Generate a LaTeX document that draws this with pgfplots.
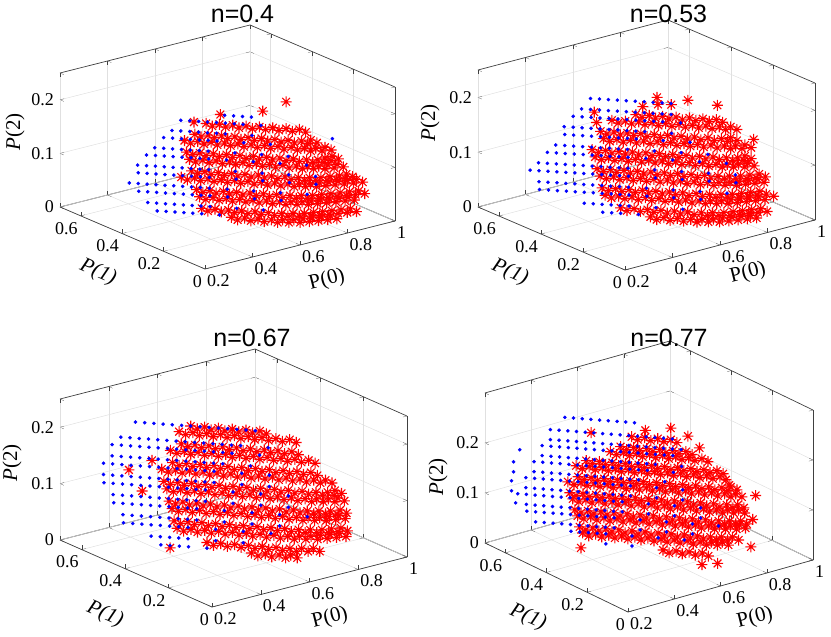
\documentclass[border=0pt]{standalone}
\usepackage{fontspec}
\setmainfont{Liberation Serif}
\newfontfamily\titlefont{Liberation Sans}
\usepackage{pgfplots}
\pgfplotsset{compat=1.18}
\pgfdeclareplotmark{mstar}{%
  \pgfpathmoveto{\pgfqpoint{-\pgfplotmarksize}{0pt}}\pgfpathlineto{\pgfqpoint{\pgfplotmarksize}{0pt}}%
  \pgfpathmoveto{\pgfqpoint{0pt}{-\pgfplotmarksize}}\pgfpathlineto{\pgfqpoint{0pt}{\pgfplotmarksize}}%
  \pgfpathmoveto{\pgfqpoint{-0.707\pgfplotmarksize}{-0.707\pgfplotmarksize}}\pgfpathlineto{\pgfqpoint{0.707\pgfplotmarksize}{0.707\pgfplotmarksize}}%
  \pgfpathmoveto{\pgfqpoint{-0.707\pgfplotmarksize}{0.707\pgfplotmarksize}}\pgfpathlineto{\pgfqpoint{0.707\pgfplotmarksize}{-0.707\pgfplotmarksize}}%
  \pgfusepathqstroke}
\pgfplotsset{
 myaxis/.style={
  xmin=0.2,xmax=1,ymin=0,ymax=0.7,zmin=0,
  xtick={0.2,0.4,0.6,0.8,1}, ytick={0,0.2,0.4,0.6}, ztick={0,0.1,0.2},
  grid=major, major grid style={draw=black!12, line width=0.5pt},
  axis line style={draw=black!75, line width=0.7pt},
  tick style={draw=black!75},
  tick label style={font=\fontsize{18}{18}\selectfont},
  xticklabel style={anchor=north west, inner sep=0pt, xshift=2pt, yshift=-5pt},
  yticklabel style={anchor=north east, inner sep=0pt, xshift=-3pt, yshift=-6pt},
  zticklabel style={anchor=east, inner sep=0pt, xshift=-6pt},
  /pgf/number format/assume math mode=true,
  anchor=origin, clip=false,
 },
 bl/.style={only marks, mark=*, mark size=1.6pt, mark options={draw=blue,fill=blue}},
 rd/.style={only marks, mark=mstar, mark size=5.5pt, mark options={draw=red, line width=1.1pt}},
}
\newcommand{\lab}[1]{\fontsize{21}{21}\selectfont #1}
\begin{document}
\begin{tikzpicture}[x=1pt,y=1pt]
\useasboundingbox (0,0) rectangle (831,-637);
% ---------------- A : n=0.4
\begin{axis}[myaxis, zmax=0.25, x={(237.5pt,60pt)}, y={(-207.1pt,88.6pt)}, z={(0pt,536pt)}, at={(205pt,-269pt)}]
\addplot3[rd] coordinates {
(0.59,0.29,0) (0.62,0.26,0) (0.65,0.23,0) (0.68,0.20,0) (0.71,0.18,0) (0.74,0.16,0) (0.77,0.15,0) (0.80,0.14,0) (0.83,0.13,0) (0.86,0.12,0)
(0.50,0.33,0.02) (0.53,0.30,0.02) (0.56,0.27,0.02) (0.59,0.24,0.02) (0.62,0.21,0.02) (0.65,0.18,0.02) (0.68,0.15,0.02) (0.71,0.13,0.02) (0.74,0.11,0.02) (0.77,0.10,0.02) (0.80,0.09,0.02) (0.83,0.08,0.02) (0.86,0.07,0.02) (0.89,0.06,0.02)
(0.50,0.34,0.04) (0.53,0.31,0.04) (0.56,0.28,0.04) (0.59,0.25,0.04) (0.62,0.22,0.04) (0.65,0.19,0.04) (0.68,0.16,0.04) (0.71,0.14,0.04) (0.74,0.12,0.04) (0.77,0.11,0.04) (0.80,0.10,0.04) (0.83,0.09,0.04) (0.86,0.08,0.04) (0.89,0.07,0.04)
(0.47,0.32,0.06) (0.50,0.29,0.06) (0.53,0.26,0.06) (0.56,0.23,0.06) (0.59,0.20,0.06) (0.62,0.17,0.06) (0.65,0.14,0.06) (0.68,0.11,0.06) (0.71,0.09,0.06) (0.74,0.07,0.06) (0.77,0.06,0.06) (0.80,0.05,0.06) (0.83,0.04,0.06) (0.86,0.03,0.06) (0.89,0.02,0.06)
(0.44,0.36,0.08) (0.47,0.33,0.08) (0.50,0.30,0.08) (0.53,0.27,0.08) (0.56,0.24,0.08) (0.59,0.21,0.08) (0.62,0.18,0.08) (0.65,0.15,0.08) (0.68,0.12,0.08) (0.71,0.10,0.08) (0.74,0.08,0.08) (0.77,0.07,0.08) (0.80,0.06,0.08) (0.83,0.05,0.08) (0.86,0.04,0.08) (0.89,0.03,0.08)
(0.44,0.31,0.10) (0.47,0.28,0.10) (0.50,0.25,0.10) (0.53,0.22,0.10) (0.56,0.19,0.10) (0.59,0.16,0.10) (0.62,0.13,0.10) (0.65,0.10,0.10) (0.68,0.07,0.10) (0.71,0.05,0.10) (0.74,0.03,0.10) (0.77,0.02,0.10) (0.80,0.01,0.10) (0.83,0.01,0.10)
(0.44,0.32,0.12) (0.47,0.29,0.12) (0.50,0.26,0.12) (0.53,0.23,0.12) (0.56,0.20,0.12) (0.59,0.17,0.12) (0.62,0.14,0.12) (0.65,0.11,0.12) (0.68,0.08,0.12) (0.71,0.06,0.12) (0.74,0.04,0.12) (0.77,0.03,0.12) (0.80,0.02,0.12)
(0.41,0.30,0.14) (0.44,0.27,0.14) (0.47,0.24,0.14) (0.50,0.21,0.14) (0.53,0.18,0.14) (0.56,0.15,0.14) (0.59,0.12,0.14) (0.62,0.09,0.14) (0.65,0.06,0.14) (0.68,0.03,0.14) (0.71,0.01,0.14) (0.74,0.01,0.14) (0.77,0.01,0.14)
(0.41,0.31,0.16) (0.44,0.28,0.16) (0.47,0.25,0.16) (0.50,0.22,0.16) (0.53,0.19,0.16) (0.56,0.16,0.16) (0.59,0.13,0.16) (0.62,0.10,0.16) (0.65,0.07,0.16) (0.68,0.04,0.16) (0.71,0.02,0.16) (0.74,0.01,0.16)
(0.41,0.26,0.18) (0.44,0.23,0.18) (0.47,0.20,0.18) (0.50,0.17,0.18) (0.53,0.14,0.18) (0.56,0.11,0.18) (0.59,0.08,0.18) (0.62,0.05,0.18) (0.65,0.02,0.18) (0.68,0.01,0.18)
(0.44,0.24,0.20) (0.47,0.21,0.20) (0.50,0.18,0.20) (0.53,0.15,0.20) (0.56,0.12,0.20) (0.59,0.09,0.20) (0.62,0.06,0.20) (0.65,0.03,0.20)
(0.50,0.27,0.21) (0.60,0.18,0.22) (0.62,0.09,0.25) (0.45,0.34,0.19)
};
\addplot3[rd] coordinates {
(0.59,0.32,0) (0.62,0.29,0) (0.65,0.26,0) (0.68,0.23,0) (0.71,0.21,0) (0.74,0.19,0) (0.77,0.18,0) (0.80,0.17,0) (0.83,0.16,0) (0.86,0.15,0)
(0.50,0.36,0.02) (0.53,0.33,0.02) (0.56,0.30,0.02) (0.59,0.27,0.02) (0.62,0.24,0.02) (0.65,0.21,0.02) (0.68,0.18,0.02) (0.71,0.16,0.02) (0.74,0.14,0.02) (0.77,0.13,0.02) (0.80,0.12,0.02) (0.83,0.11,0.02) (0.86,0.10,0.02) (0.89,0.09,0.02)
(0.50,0.37,0.04) (0.53,0.34,0.04) (0.56,0.31,0.04) (0.59,0.28,0.04) (0.62,0.25,0.04) (0.65,0.22,0.04) (0.68,0.19,0.04) (0.71,0.17,0.04) (0.74,0.15,0.04) (0.77,0.14,0.04) (0.80,0.13,0.04) (0.83,0.12,0.04) (0.86,0.11,0.04) (0.89,0.10,0.04)
(0.47,0.35,0.06) (0.50,0.32,0.06) (0.53,0.29,0.06) (0.56,0.26,0.06) (0.59,0.23,0.06) (0.62,0.20,0.06) (0.65,0.17,0.06) (0.68,0.14,0.06) (0.71,0.12,0.06) (0.74,0.10,0.06) (0.77,0.09,0.06) (0.80,0.08,0.06) (0.83,0.07,0.06) (0.86,0.06,0.06) (0.89,0.05,0.06)
(0.44,0.39,0.08) (0.47,0.36,0.08) (0.50,0.33,0.08) (0.53,0.30,0.08) (0.56,0.27,0.08) (0.59,0.24,0.08) (0.62,0.21,0.08) (0.65,0.18,0.08) (0.68,0.15,0.08) (0.71,0.13,0.08) (0.74,0.11,0.08) (0.77,0.10,0.08) (0.80,0.09,0.08) (0.83,0.08,0.08) (0.86,0.07,0.08) (0.89,0.06,0.08)
(0.44,0.34,0.10) (0.47,0.31,0.10) (0.50,0.28,0.10) (0.53,0.25,0.10) (0.56,0.22,0.10) (0.59,0.19,0.10) (0.62,0.16,0.10) (0.65,0.13,0.10) (0.68,0.10,0.10) (0.71,0.08,0.10) (0.74,0.06,0.10) (0.77,0.05,0.10) (0.80,0.04,0.10) (0.83,0.04,0.10)
(0.44,0.35,0.12) (0.47,0.32,0.12) (0.50,0.29,0.12) (0.53,0.26,0.12) (0.56,0.23,0.12) (0.59,0.20,0.12) (0.62,0.17,0.12) (0.65,0.14,0.12) (0.68,0.11,0.12) (0.71,0.09,0.12) (0.74,0.07,0.12) (0.77,0.06,0.12) (0.80,0.05,0.12)
(0.41,0.33,0.14) (0.44,0.30,0.14) (0.47,0.27,0.14) (0.50,0.24,0.14) (0.53,0.21,0.14) (0.56,0.18,0.14) (0.59,0.15,0.14) (0.62,0.12,0.14) (0.65,0.09,0.14) (0.68,0.06,0.14) (0.71,0.04,0.14) (0.74,0.04,0.14) (0.77,0.04,0.14)
(0.41,0.34,0.16) (0.44,0.31,0.16) (0.47,0.28,0.16) (0.50,0.25,0.16) (0.53,0.22,0.16) (0.56,0.19,0.16) (0.59,0.16,0.16) (0.62,0.13,0.16) (0.65,0.10,0.16) (0.68,0.07,0.16) (0.71,0.05,0.16) (0.74,0.04,0.16)
(0.41,0.29,0.18) (0.44,0.26,0.18) (0.47,0.23,0.18) (0.50,0.20,0.18) (0.53,0.17,0.18) (0.56,0.14,0.18) (0.59,0.11,0.18) (0.62,0.08,0.18) (0.65,0.05,0.18) (0.68,0.04,0.18)
(0.44,0.27,0.20) (0.47,0.24,0.20) (0.50,0.21,0.20) (0.53,0.18,0.20) (0.56,0.15,0.20) (0.59,0.12,0.20) (0.62,0.09,0.20) (0.65,0.06,0.20)
};
\addplot3[bl] coordinates {
(0.40,0.46,0.01) (0.42,0.44,0.01) (0.44,0.42,0.01) (0.46,0.40,0.01) (0.48,0.38,0.01) (0.50,0.36,0.01) (0.54,0.32,0.01)
(0.36,0.46,0.03) (0.38,0.44,0.03) (0.40,0.42,0.03) (0.42,0.40,0.03) (0.44,0.38,0.03) (0.46,0.36,0.03) (0.48,0.34,0.03) (0.50,0.32,0.03) (0.56,0.26,0.03) (0.62,0.20,0.03)
(0.34,0.48,0.05) (0.36,0.46,0.05) (0.38,0.44,0.05) (0.40,0.42,0.05) (0.42,0.40,0.05) (0.44,0.38,0.05) (0.46,0.36,0.05) (0.48,0.34,0.05) (0.50,0.32,0.05) (0.54,0.28,0.05) (0.60,0.22,0.05) (0.66,0.16,0.05)
(0.30,0.48,0.07) (0.32,0.46,0.07) (0.34,0.44,0.07) (0.36,0.42,0.07) (0.38,0.40,0.07) (0.40,0.38,0.07) (0.42,0.36,0.07) (0.44,0.34,0.07) (0.46,0.32,0.07) (0.48,0.30,0.07) (0.52,0.26,0.07) (0.58,0.20,0.07) (0.64,0.14,0.07) (0.70,0.08,0.07)
(0.32,0.46,0.09) (0.34,0.44,0.09) (0.36,0.42,0.09) (0.38,0.40,0.09) (0.40,0.38,0.09) (0.42,0.36,0.09) (0.44,0.34,0.09) (0.46,0.32,0.09) (0.48,0.30,0.09) (0.54,0.24,0.09) (0.60,0.18,0.09) (0.66,0.12,0.09) (0.72,0.06,0.09)
(0.30,0.44,0.11) (0.32,0.42,0.11) (0.34,0.40,0.11) (0.36,0.38,0.11) (0.38,0.36,0.11) (0.40,0.34,0.11) (0.42,0.32,0.11) (0.44,0.30,0.11) (0.46,0.28,0.11) (0.52,0.22,0.11) (0.58,0.16,0.11) (0.64,0.10,0.11) (0.70,0.04,0.11)
(0.32,0.42,0.13) (0.34,0.40,0.13) (0.36,0.38,0.13) (0.38,0.36,0.13) (0.40,0.34,0.13) (0.42,0.32,0.13) (0.44,0.30,0.13) (0.46,0.28,0.13) (0.50,0.24,0.13) (0.56,0.18,0.13) (0.62,0.12,0.13) (0.68,0.06,0.13)
(0.32,0.38,0.15) (0.34,0.36,0.15) (0.36,0.34,0.15) (0.38,0.32,0.15) (0.40,0.30,0.15) (0.42,0.28,0.15) (0.44,0.26,0.15) (0.50,0.20,0.15) (0.56,0.14,0.15) (0.62,0.08,0.15)
(0.34,0.36,0.17) (0.36,0.34,0.17) (0.38,0.32,0.17) (0.40,0.30,0.17) (0.42,0.28,0.17) (0.44,0.26,0.17) (0.46,0.24,0.17) (0.52,0.18,0.17) (0.58,0.12,0.17)
(0.34,0.32,0.19) (0.36,0.30,0.19) (0.38,0.28,0.19) (0.40,0.26,0.19) (0.42,0.24,0.19) (0.44,0.22,0.19) (0.46,0.20,0.19) (0.52,0.14,0.19)
(0.36,0.30,0.21) (0.38,0.28,0.21) (0.40,0.26,0.21) (0.42,0.24,0.21) (0.44,0.22,0.21) (0.46,0.20,0.21) (0.48,0.18,0.21) (0.50,0.16,0.21) (0.54,0.12,0.21)
(0.44,0.18,0.23) (0.46,0.16,0.23) (0.48,0.14,0.23) (0.50,0.12,0.23) (0.78,0.05,0.17)
};
\end{axis}
% ---------------- B : n=0.53
\begin{axis}[myaxis, zmax=0.25, x={(237.5pt,62.5pt)}, y={(-210pt,90pt)}, z={(0pt,548pt)}, at={(625pt,-270pt)}]
\addplot3[rd] coordinates {
(0.59,0.29,0) (0.62,0.26,0) (0.65,0.23,0) (0.68,0.20,0) (0.71,0.18,0) (0.74,0.16,0) (0.77,0.15,0) (0.80,0.14,0) (0.83,0.13,0) (0.86,0.12,0)
(0.50,0.33,0.02) (0.53,0.30,0.02) (0.56,0.27,0.02) (0.59,0.24,0.02) (0.62,0.21,0.02) (0.65,0.18,0.02) (0.68,0.15,0.02) (0.71,0.13,0.02) (0.74,0.11,0.02) (0.77,0.10,0.02) (0.80,0.09,0.02) (0.83,0.08,0.02) (0.86,0.07,0.02)
(0.47,0.37,0.04) (0.50,0.34,0.04) (0.53,0.31,0.04) (0.56,0.28,0.04) (0.59,0.25,0.04) (0.62,0.22,0.04) (0.65,0.19,0.04) (0.68,0.16,0.04) (0.71,0.14,0.04) (0.74,0.12,0.04) (0.77,0.11,0.04) (0.80,0.10,0.04) (0.83,0.09,0.04) (0.86,0.08,0.04)
(0.44,0.35,0.06) (0.47,0.32,0.06) (0.50,0.29,0.06) (0.53,0.26,0.06) (0.56,0.23,0.06) (0.59,0.20,0.06) (0.62,0.17,0.06) (0.65,0.14,0.06) (0.68,0.11,0.06) (0.71,0.09,0.06) (0.74,0.07,0.06) (0.77,0.06,0.06) (0.80,0.05,0.06) (0.83,0.04,0.06)
(0.44,0.36,0.08) (0.47,0.33,0.08) (0.50,0.30,0.08) (0.53,0.27,0.08) (0.56,0.24,0.08) (0.59,0.21,0.08) (0.62,0.18,0.08) (0.65,0.15,0.08) (0.68,0.12,0.08) (0.71,0.10,0.08) (0.74,0.08,0.08) (0.77,0.07,0.08) (0.80,0.06,0.08) (0.83,0.05,0.08)
(0.41,0.34,0.10) (0.44,0.31,0.10) (0.47,0.28,0.10) (0.50,0.25,0.10) (0.53,0.22,0.10) (0.56,0.19,0.10) (0.59,0.16,0.10) (0.62,0.13,0.10) (0.65,0.10,0.10) (0.68,0.07,0.10) (0.71,0.05,0.10) (0.74,0.03,0.10) (0.77,0.02,0.10) (0.80,0.01,0.10)
(0.41,0.35,0.12) (0.44,0.32,0.12) (0.47,0.29,0.12) (0.50,0.26,0.12) (0.53,0.23,0.12) (0.56,0.20,0.12) (0.59,0.17,0.12) (0.62,0.14,0.12) (0.65,0.11,0.12) (0.68,0.08,0.12) (0.71,0.06,0.12) (0.74,0.04,0.12) (0.77,0.03,0.12)
(0.38,0.33,0.14) (0.41,0.30,0.14) (0.44,0.27,0.14) (0.47,0.24,0.14) (0.50,0.21,0.14) (0.53,0.18,0.14) (0.56,0.15,0.14) (0.59,0.12,0.14) (0.62,0.09,0.14) (0.65,0.06,0.14) (0.68,0.03,0.14) (0.71,0.01,0.14) (0.74,0.01,0.14)
(0.41,0.31,0.16) (0.44,0.28,0.16) (0.47,0.25,0.16) (0.50,0.22,0.16) (0.53,0.19,0.16) (0.56,0.16,0.16) (0.59,0.13,0.16) (0.62,0.10,0.16) (0.65,0.07,0.16) (0.68,0.04,0.16) (0.71,0.02,0.16) (0.74,0.01,0.16)
(0.38,0.29,0.18) (0.41,0.26,0.18) (0.44,0.23,0.18) (0.47,0.20,0.18) (0.50,0.17,0.18) (0.53,0.14,0.18) (0.56,0.11,0.18) (0.59,0.08,0.18) (0.62,0.05,0.18) (0.65,0.02,0.18) (0.68,0.01,0.18)
(0.41,0.27,0.20) (0.44,0.24,0.20) (0.47,0.21,0.20) (0.50,0.18,0.20) (0.53,0.15,0.20) (0.56,0.12,0.20) (0.59,0.09,0.20) (0.62,0.06,0.20) (0.65,0.03,0.20) (0.68,0.01,0.20)
(0.44,0.19,0.22) (0.47,0.16,0.22) (0.50,0.13,0.22) (0.53,0.10,0.22) (0.56,0.07,0.22) (0.59,0.04,0.22) (0.62,0.01,0.22)
(0.60,0.30,0.22) (0.73,0.30,0.20) (0.81,0.25,0.19) (0.54,0.30,0.21) (0.38,0.35,0.21) (0.39,0.35,0.19) (0.83,0.10,0.15) (0.87,0.05,0.05) (0.66,0.30,0.20) (0.56,0.25,0.22)
};
\addplot3[rd] coordinates {
(0.59,0.32,0) (0.62,0.29,0) (0.65,0.26,0) (0.68,0.23,0) (0.71,0.21,0) (0.74,0.19,0) (0.77,0.18,0) (0.80,0.17,0) (0.83,0.16,0) (0.86,0.15,0)
(0.50,0.36,0.02) (0.53,0.33,0.02) (0.56,0.30,0.02) (0.59,0.27,0.02) (0.62,0.24,0.02) (0.65,0.21,0.02) (0.68,0.18,0.02) (0.71,0.16,0.02) (0.74,0.14,0.02) (0.77,0.13,0.02) (0.80,0.12,0.02) (0.83,0.11,0.02) (0.86,0.10,0.02)
(0.47,0.40,0.04) (0.50,0.37,0.04) (0.53,0.34,0.04) (0.56,0.31,0.04) (0.59,0.28,0.04) (0.62,0.25,0.04) (0.65,0.22,0.04) (0.68,0.19,0.04) (0.71,0.17,0.04) (0.74,0.15,0.04) (0.77,0.14,0.04) (0.80,0.13,0.04) (0.83,0.12,0.04) (0.86,0.11,0.04)
(0.44,0.38,0.06) (0.47,0.35,0.06) (0.50,0.32,0.06) (0.53,0.29,0.06) (0.56,0.26,0.06) (0.59,0.23,0.06) (0.62,0.20,0.06) (0.65,0.17,0.06) (0.68,0.14,0.06) (0.71,0.12,0.06) (0.74,0.10,0.06) (0.77,0.09,0.06) (0.80,0.08,0.06) (0.83,0.07,0.06)
(0.44,0.39,0.08) (0.47,0.36,0.08) (0.50,0.33,0.08) (0.53,0.30,0.08) (0.56,0.27,0.08) (0.59,0.24,0.08) (0.62,0.21,0.08) (0.65,0.18,0.08) (0.68,0.15,0.08) (0.71,0.13,0.08) (0.74,0.11,0.08) (0.77,0.10,0.08) (0.80,0.09,0.08) (0.83,0.08,0.08)
(0.41,0.37,0.10) (0.44,0.34,0.10) (0.47,0.31,0.10) (0.50,0.28,0.10) (0.53,0.25,0.10) (0.56,0.22,0.10) (0.59,0.19,0.10) (0.62,0.16,0.10) (0.65,0.13,0.10) (0.68,0.10,0.10) (0.71,0.08,0.10) (0.74,0.06,0.10) (0.77,0.05,0.10) (0.80,0.04,0.10)
(0.41,0.38,0.12) (0.44,0.35,0.12) (0.47,0.32,0.12) (0.50,0.29,0.12) (0.53,0.26,0.12) (0.56,0.23,0.12) (0.59,0.20,0.12) (0.62,0.17,0.12) (0.65,0.14,0.12) (0.68,0.11,0.12) (0.71,0.09,0.12) (0.74,0.07,0.12) (0.77,0.06,0.12)
(0.38,0.36,0.14) (0.41,0.33,0.14) (0.44,0.30,0.14) (0.47,0.27,0.14) (0.50,0.24,0.14) (0.53,0.21,0.14) (0.56,0.18,0.14) (0.59,0.15,0.14) (0.62,0.12,0.14) (0.65,0.09,0.14) (0.68,0.06,0.14) (0.71,0.04,0.14) (0.74,0.04,0.14)
(0.41,0.34,0.16) (0.44,0.31,0.16) (0.47,0.28,0.16) (0.50,0.25,0.16) (0.53,0.22,0.16) (0.56,0.19,0.16) (0.59,0.16,0.16) (0.62,0.13,0.16) (0.65,0.10,0.16) (0.68,0.07,0.16) (0.71,0.05,0.16) (0.74,0.04,0.16)
(0.38,0.32,0.18) (0.41,0.29,0.18) (0.44,0.26,0.18) (0.47,0.23,0.18) (0.50,0.20,0.18) (0.53,0.17,0.18) (0.56,0.14,0.18) (0.59,0.11,0.18) (0.62,0.08,0.18) (0.65,0.05,0.18) (0.68,0.04,0.18)
(0.41,0.30,0.20) (0.44,0.27,0.20) (0.47,0.24,0.20) (0.50,0.21,0.20) (0.53,0.18,0.20) (0.56,0.15,0.20) (0.59,0.12,0.20) (0.62,0.09,0.20) (0.65,0.06,0.20) (0.68,0.04,0.20)
(0.44,0.22,0.22) (0.47,0.19,0.22) (0.50,0.16,0.22) (0.53,0.13,0.22) (0.56,0.10,0.22) (0.59,0.07,0.22) (0.62,0.04,0.22)
};
\addplot3[bl] coordinates {
(0.46,0.40,0.01) (0.48,0.38,0.01) (0.50,0.36,0.01) (0.54,0.32,0.01)
(0.40,0.42,0.03) (0.42,0.40,0.03) (0.44,0.38,0.03) (0.46,0.36,0.03) (0.48,0.34,0.03) (0.50,0.32,0.03) (0.56,0.26,0.03) (0.62,0.20,0.03)
(0.30,0.52,0.05) (0.32,0.50,0.05) (0.34,0.48,0.05) (0.36,0.46,0.05) (0.38,0.44,0.05) (0.40,0.42,0.05) (0.42,0.40,0.05) (0.44,0.38,0.05) (0.46,0.36,0.05) (0.48,0.34,0.05) (0.50,0.32,0.05) (0.54,0.28,0.05) (0.60,0.22,0.05) (0.66,0.16,0.05)
(0.28,0.50,0.07) (0.30,0.48,0.07) (0.32,0.46,0.07) (0.34,0.44,0.07) (0.36,0.42,0.07) (0.38,0.40,0.07) (0.40,0.38,0.07) (0.42,0.36,0.07) (0.44,0.34,0.07) (0.46,0.32,0.07) (0.48,0.30,0.07) (0.52,0.26,0.07) (0.58,0.20,0.07) (0.64,0.14,0.07) (0.70,0.08,0.07)
(0.26,0.52,0.09) (0.28,0.50,0.09) (0.30,0.48,0.09) (0.32,0.46,0.09) (0.34,0.44,0.09) (0.36,0.42,0.09) (0.38,0.40,0.09) (0.40,0.38,0.09) (0.42,0.36,0.09) (0.44,0.34,0.09) (0.46,0.32,0.09) (0.48,0.30,0.09) (0.54,0.24,0.09) (0.60,0.18,0.09) (0.66,0.12,0.09) (0.72,0.06,0.09)
(0.26,0.48,0.11) (0.28,0.46,0.11) (0.30,0.44,0.11) (0.32,0.42,0.11) (0.34,0.40,0.11) (0.36,0.38,0.11) (0.38,0.36,0.11) (0.40,0.34,0.11) (0.42,0.32,0.11) (0.44,0.30,0.11) (0.46,0.28,0.11) (0.52,0.22,0.11) (0.58,0.16,0.11) (0.64,0.10,0.11) (0.70,0.04,0.11)
(0.28,0.46,0.13) (0.30,0.44,0.13) (0.32,0.42,0.13) (0.34,0.40,0.13) (0.36,0.38,0.13) (0.38,0.36,0.13) (0.40,0.34,0.13) (0.42,0.32,0.13) (0.44,0.30,0.13) (0.46,0.28,0.13) (0.50,0.24,0.13) (0.56,0.18,0.13) (0.62,0.12,0.13) (0.68,0.06,0.13)
(0.28,0.42,0.15) (0.30,0.40,0.15) (0.32,0.38,0.15) (0.34,0.36,0.15) (0.36,0.34,0.15) (0.38,0.32,0.15) (0.40,0.30,0.15) (0.42,0.28,0.15) (0.44,0.26,0.15) (0.50,0.20,0.15) (0.56,0.14,0.15) (0.62,0.08,0.15)
(0.30,0.40,0.17) (0.32,0.38,0.17) (0.34,0.36,0.17) (0.36,0.34,0.17) (0.38,0.32,0.17) (0.40,0.30,0.17) (0.42,0.28,0.17) (0.44,0.26,0.17) (0.46,0.24,0.17) (0.52,0.18,0.17) (0.58,0.12,0.17)
(0.28,0.38,0.19) (0.30,0.36,0.19) (0.32,0.34,0.19) (0.34,0.32,0.19) (0.36,0.30,0.19) (0.38,0.28,0.19) (0.40,0.26,0.19) (0.42,0.24,0.19) (0.44,0.22,0.19) (0.46,0.20,0.19) (0.52,0.14,0.19)
(0.30,0.36,0.21) (0.32,0.34,0.21) (0.34,0.32,0.21) (0.36,0.30,0.21) (0.38,0.28,0.21) (0.40,0.26,0.21) (0.42,0.24,0.21) (0.44,0.22,0.21) (0.46,0.20,0.21) (0.48,0.18,0.21) (0.50,0.16,0.21) (0.54,0.12,0.21)
(0.30,0.32,0.23) (0.32,0.30,0.23) (0.34,0.28,0.23) (0.36,0.26,0.23) (0.38,0.24,0.23) (0.40,0.22,0.23) (0.42,0.20,0.23) (0.44,0.18,0.23) (0.46,0.16,0.23) (0.48,0.14,0.23) (0.50,0.12,0.23)
(0.32,0.30,0.25) (0.34,0.28,0.25) (0.36,0.26,0.25) (0.38,0.24,0.25) (0.40,0.22,0.25) (0.42,0.20,0.25) (0.44,0.18,0.25) (0.46,0.16,0.25) (0.48,0.14,0.25) (0.50,0.12,0.25)
};
\end{axis}
% ---------------- C : n=0.67
\begin{axis}[myaxis, zmax=0.25, x={(243.75pt,62.5pt)}, y={(-217.1pt,95.7pt)}, z={(0pt,564pt)}, at={(212pt,-607pt)}]
\addplot3[rd] coordinates {
(0.62,0.26,0) (0.65,0.23,0) (0.68,0.20,0) (0.71,0.18,0)
(0.50,0.33,0.02) (0.53,0.30,0.02) (0.56,0.27,0.02) (0.59,0.24,0.02) (0.62,0.21,0.02) (0.65,0.18,0.02) (0.68,0.15,0.02) (0.71,0.13,0.02) (0.74,0.11,0.02)
(0.44,0.40,0.04) (0.47,0.37,0.04) (0.50,0.34,0.04) (0.53,0.31,0.04) (0.56,0.28,0.04) (0.59,0.25,0.04) (0.62,0.22,0.04) (0.65,0.19,0.04) (0.68,0.16,0.04) (0.71,0.14,0.04) (0.74,0.12,0.04) (0.77,0.11,0.04) (0.80,0.10,0.04) (0.83,0.09,0.04)
(0.41,0.38,0.06) (0.44,0.35,0.06) (0.47,0.32,0.06) (0.50,0.29,0.06) (0.53,0.26,0.06) (0.56,0.23,0.06) (0.59,0.20,0.06) (0.62,0.17,0.06) (0.65,0.14,0.06) (0.68,0.11,0.06) (0.71,0.09,0.06) (0.74,0.07,0.06) (0.77,0.06,0.06) (0.80,0.05,0.06)
(0.41,0.39,0.08) (0.44,0.36,0.08) (0.47,0.33,0.08) (0.50,0.30,0.08) (0.53,0.27,0.08) (0.56,0.24,0.08) (0.59,0.21,0.08) (0.62,0.18,0.08) (0.65,0.15,0.08) (0.68,0.12,0.08) (0.71,0.10,0.08) (0.74,0.08,0.08) (0.77,0.07,0.08) (0.80,0.06,0.08)
(0.38,0.37,0.10) (0.41,0.34,0.10) (0.44,0.31,0.10) (0.47,0.28,0.10) (0.50,0.25,0.10) (0.53,0.22,0.10) (0.56,0.19,0.10) (0.59,0.16,0.10) (0.62,0.13,0.10) (0.65,0.10,0.10) (0.68,0.07,0.10) (0.71,0.05,0.10) (0.74,0.03,0.10) (0.77,0.02,0.10)
(0.38,0.38,0.12) (0.41,0.35,0.12) (0.44,0.32,0.12) (0.47,0.29,0.12) (0.50,0.26,0.12) (0.53,0.23,0.12) (0.56,0.20,0.12) (0.59,0.17,0.12) (0.62,0.14,0.12) (0.65,0.11,0.12) (0.68,0.08,0.12) (0.71,0.06,0.12) (0.74,0.04,0.12) (0.77,0.03,0.12)
(0.35,0.36,0.14) (0.38,0.33,0.14) (0.41,0.30,0.14) (0.44,0.27,0.14) (0.47,0.24,0.14) (0.50,0.21,0.14) (0.53,0.18,0.14) (0.56,0.15,0.14) (0.59,0.12,0.14) (0.62,0.09,0.14) (0.65,0.06,0.14) (0.68,0.03,0.14) (0.71,0.01,0.14) (0.74,0.01,0.14)
(0.35,0.37,0.16) (0.38,0.34,0.16) (0.41,0.31,0.16) (0.44,0.28,0.16) (0.47,0.25,0.16) (0.50,0.22,0.16) (0.53,0.19,0.16) (0.56,0.16,0.16) (0.59,0.13,0.16) (0.62,0.10,0.16) (0.65,0.07,0.16) (0.68,0.04,0.16) (0.71,0.02,0.16)
(0.35,0.32,0.18) (0.38,0.29,0.18) (0.41,0.26,0.18) (0.44,0.23,0.18) (0.47,0.20,0.18) (0.50,0.17,0.18) (0.53,0.14,0.18) (0.56,0.11,0.18) (0.59,0.08,0.18) (0.62,0.05,0.18) (0.65,0.02,0.18)
(0.35,0.33,0.20) (0.38,0.30,0.20) (0.41,0.27,0.20) (0.44,0.24,0.20) (0.47,0.21,0.20) (0.50,0.18,0.20) (0.53,0.15,0.20) (0.56,0.12,0.20) (0.59,0.09,0.20) (0.62,0.06,0.20) (0.65,0.03,0.20)
(0.35,0.28,0.22) (0.38,0.25,0.22) (0.41,0.22,0.22) (0.44,0.19,0.22) (0.47,0.16,0.22) (0.50,0.13,0.22) (0.53,0.10,0.22) (0.56,0.07,0.22) (0.59,0.04,0.22)
(0.35,0.29,0.24) (0.38,0.26,0.24) (0.41,0.23,0.24) (0.44,0.20,0.24) (0.47,0.17,0.24) (0.50,0.14,0.24) (0.53,0.11,0.24) (0.56,0.08,0.24) (0.59,0.05,0.24)
(0.38,0.27,0.25) (0.41,0.24,0.25) (0.44,0.21,0.25) (0.47,0.18,0.25) (0.50,0.15,0.25) (0.53,0.12,0.25)
(0.26,0.45,0.16) (0.34,0.35,0.03) (0.31,0.40,0.18) (0.27,0.40,0.13)
};
\addplot3[rd] coordinates {
(0.62,0.29,0) (0.65,0.26,0) (0.68,0.23,0) (0.71,0.21,0)
(0.50,0.36,0.02) (0.53,0.33,0.02) (0.56,0.30,0.02) (0.59,0.27,0.02) (0.62,0.24,0.02) (0.65,0.21,0.02) (0.68,0.18,0.02) (0.71,0.16,0.02) (0.74,0.14,0.02)
(0.44,0.43,0.04) (0.47,0.40,0.04) (0.50,0.37,0.04) (0.53,0.34,0.04) (0.56,0.31,0.04) (0.59,0.28,0.04) (0.62,0.25,0.04) (0.65,0.22,0.04) (0.68,0.19,0.04) (0.71,0.17,0.04) (0.74,0.15,0.04) (0.77,0.14,0.04) (0.80,0.13,0.04) (0.83,0.12,0.04)
(0.41,0.41,0.06) (0.44,0.38,0.06) (0.47,0.35,0.06) (0.50,0.32,0.06) (0.53,0.29,0.06) (0.56,0.26,0.06) (0.59,0.23,0.06) (0.62,0.20,0.06) (0.65,0.17,0.06) (0.68,0.14,0.06) (0.71,0.12,0.06) (0.74,0.10,0.06) (0.77,0.09,0.06) (0.80,0.08,0.06)
(0.41,0.42,0.08) (0.44,0.39,0.08) (0.47,0.36,0.08) (0.50,0.33,0.08) (0.53,0.30,0.08) (0.56,0.27,0.08) (0.59,0.24,0.08) (0.62,0.21,0.08) (0.65,0.18,0.08) (0.68,0.15,0.08) (0.71,0.13,0.08) (0.74,0.11,0.08) (0.77,0.10,0.08) (0.80,0.09,0.08)
(0.38,0.40,0.10) (0.41,0.37,0.10) (0.44,0.34,0.10) (0.47,0.31,0.10) (0.50,0.28,0.10) (0.53,0.25,0.10) (0.56,0.22,0.10) (0.59,0.19,0.10) (0.62,0.16,0.10) (0.65,0.13,0.10) (0.68,0.10,0.10) (0.71,0.08,0.10) (0.74,0.06,0.10) (0.77,0.05,0.10)
(0.38,0.41,0.12) (0.41,0.38,0.12) (0.44,0.35,0.12) (0.47,0.32,0.12) (0.50,0.29,0.12) (0.53,0.26,0.12) (0.56,0.23,0.12) (0.59,0.20,0.12) (0.62,0.17,0.12) (0.65,0.14,0.12) (0.68,0.11,0.12) (0.71,0.09,0.12) (0.74,0.07,0.12) (0.77,0.06,0.12)
(0.35,0.39,0.14) (0.38,0.36,0.14) (0.41,0.33,0.14) (0.44,0.30,0.14) (0.47,0.27,0.14) (0.50,0.24,0.14) (0.53,0.21,0.14) (0.56,0.18,0.14) (0.59,0.15,0.14) (0.62,0.12,0.14) (0.65,0.09,0.14) (0.68,0.06,0.14) (0.71,0.04,0.14) (0.74,0.04,0.14)
(0.35,0.40,0.16) (0.38,0.37,0.16) (0.41,0.34,0.16) (0.44,0.31,0.16) (0.47,0.28,0.16) (0.50,0.25,0.16) (0.53,0.22,0.16) (0.56,0.19,0.16) (0.59,0.16,0.16) (0.62,0.13,0.16) (0.65,0.10,0.16) (0.68,0.07,0.16) (0.71,0.05,0.16)
(0.35,0.35,0.18) (0.38,0.32,0.18) (0.41,0.29,0.18) (0.44,0.26,0.18) (0.47,0.23,0.18) (0.50,0.20,0.18) (0.53,0.17,0.18) (0.56,0.14,0.18) (0.59,0.11,0.18) (0.62,0.08,0.18) (0.65,0.05,0.18)
(0.35,0.36,0.20) (0.38,0.33,0.20) (0.41,0.30,0.20) (0.44,0.27,0.20) (0.47,0.24,0.20) (0.50,0.21,0.20) (0.53,0.18,0.20) (0.56,0.15,0.20) (0.59,0.12,0.20) (0.62,0.09,0.20) (0.65,0.06,0.20)
(0.35,0.31,0.22) (0.38,0.28,0.22) (0.41,0.25,0.22) (0.44,0.22,0.22) (0.47,0.19,0.22) (0.50,0.16,0.22) (0.53,0.13,0.22) (0.56,0.10,0.22) (0.59,0.07,0.22)
(0.35,0.32,0.24) (0.38,0.29,0.24) (0.41,0.26,0.24) (0.44,0.23,0.24) (0.47,0.20,0.24) (0.50,0.17,0.24) (0.53,0.14,0.24) (0.56,0.11,0.24) (0.59,0.08,0.24)
(0.38,0.30,0.25) (0.41,0.27,0.25) (0.44,0.24,0.25) (0.47,0.21,0.25) (0.50,0.18,0.25) (0.53,0.15,0.25)
};
\addplot3[bl] coordinates {
(0.40,0.46,0.01) (0.42,0.44,0.01) (0.44,0.42,0.01) (0.46,0.40,0.01) (0.50,0.36,0.01)
(0.36,0.46,0.03) (0.38,0.44,0.03) (0.40,0.42,0.03) (0.42,0.40,0.03) (0.44,0.38,0.03) (0.50,0.32,0.03) (0.56,0.26,0.03)
(0.30,0.52,0.05) (0.32,0.50,0.05) (0.34,0.48,0.05) (0.36,0.46,0.05) (0.38,0.44,0.05) (0.40,0.42,0.05) (0.42,0.40,0.05) (0.44,0.38,0.05) (0.50,0.32,0.05) (0.56,0.26,0.05) (0.62,0.20,0.05)
(0.28,0.50,0.07) (0.30,0.48,0.07) (0.32,0.46,0.07) (0.34,0.44,0.07) (0.36,0.42,0.07) (0.38,0.40,0.07) (0.40,0.38,0.07) (0.42,0.36,0.07) (0.44,0.34,0.07) (0.50,0.28,0.07) (0.56,0.22,0.07) (0.62,0.16,0.07)
(0.26,0.52,0.09) (0.28,0.50,0.09) (0.30,0.48,0.09) (0.32,0.46,0.09) (0.34,0.44,0.09) (0.36,0.42,0.09) (0.38,0.40,0.09) (0.40,0.38,0.09) (0.42,0.36,0.09) (0.44,0.34,0.09) (0.50,0.28,0.09) (0.56,0.22,0.09) (0.62,0.16,0.09) (0.68,0.10,0.09)
(0.24,0.50,0.11) (0.26,0.48,0.11) (0.28,0.46,0.11) (0.30,0.44,0.11) (0.32,0.42,0.11) (0.34,0.40,0.11) (0.36,0.38,0.11) (0.38,0.36,0.11) (0.40,0.34,0.11) (0.42,0.32,0.11) (0.44,0.30,0.11) (0.50,0.24,0.11) (0.56,0.18,0.11) (0.62,0.12,0.11)
(0.22,0.52,0.13) (0.24,0.50,0.13) (0.26,0.48,0.13) (0.28,0.46,0.13) (0.30,0.44,0.13) (0.32,0.42,0.13) (0.34,0.40,0.13) (0.36,0.38,0.13) (0.38,0.36,0.13) (0.40,0.34,0.13) (0.42,0.32,0.13) (0.44,0.30,0.13) (0.50,0.24,0.13) (0.56,0.18,0.13) (0.62,0.12,0.13)
(0.20,0.50,0.15) (0.22,0.48,0.15) (0.24,0.46,0.15) (0.26,0.44,0.15) (0.28,0.42,0.15) (0.30,0.40,0.15) (0.32,0.38,0.15) (0.34,0.36,0.15) (0.36,0.34,0.15) (0.38,0.32,0.15) (0.40,0.30,0.15) (0.42,0.28,0.15) (0.44,0.26,0.15) (0.50,0.20,0.15) (0.56,0.14,0.15)
(0.20,0.50,0.17) (0.22,0.48,0.17) (0.24,0.46,0.17) (0.26,0.44,0.17) (0.28,0.42,0.17) (0.30,0.40,0.17) (0.32,0.38,0.17) (0.34,0.36,0.17) (0.36,0.34,0.17) (0.38,0.32,0.17) (0.40,0.30,0.17) (0.42,0.28,0.17) (0.44,0.26,0.17) (0.50,0.20,0.17) (0.56,0.14,0.17)
(0.20,0.46,0.19) (0.22,0.44,0.19) (0.24,0.42,0.19) (0.26,0.40,0.19) (0.28,0.38,0.19) (0.30,0.36,0.19) (0.32,0.34,0.19) (0.34,0.32,0.19) (0.36,0.30,0.19) (0.38,0.28,0.19) (0.40,0.26,0.19) (0.42,0.24,0.19) (0.44,0.22,0.19) (0.50,0.16,0.19)
(0.20,0.46,0.21) (0.22,0.44,0.21) (0.24,0.42,0.21) (0.26,0.40,0.21) (0.28,0.38,0.21) (0.30,0.36,0.21) (0.32,0.34,0.21) (0.34,0.32,0.21) (0.36,0.30,0.21) (0.38,0.28,0.21) (0.40,0.26,0.21) (0.42,0.24,0.21) (0.44,0.22,0.21) (0.46,0.20,0.21) (0.52,0.14,0.21)
(0.20,0.42,0.23) (0.22,0.40,0.23) (0.24,0.38,0.23) (0.26,0.36,0.23) (0.28,0.34,0.23) (0.30,0.32,0.23) (0.32,0.30,0.23) (0.34,0.28,0.23) (0.36,0.26,0.23) (0.38,0.24,0.23) (0.40,0.22,0.23) (0.42,0.20,0.23) (0.44,0.18,0.23) (0.46,0.16,0.23) (0.52,0.10,0.23)
(0.26,0.42,0.25) (0.28,0.40,0.25) (0.30,0.38,0.25) (0.32,0.36,0.25) (0.34,0.34,0.25) (0.36,0.32,0.25) (0.38,0.30,0.25) (0.40,0.28,0.25) (0.42,0.26,0.25) (0.44,0.24,0.25) (0.46,0.22,0.25) (0.48,0.20,0.25) (0.50,0.18,0.25) (0.52,0.16,0.25)
};
\end{axis}
% ---------------- D : n=0.77
\begin{axis}[myaxis, zmax=0.3, x={(231.25pt,65pt)}, y={(-204.3pt,98.6pt)}, z={(0pt,500pt)}, at={(628pt,-612pt)}]
\addplot3[rd] coordinates {
(0.59,0.24,0.02) (0.62,0.21,0.02) (0.65,0.18,0.02) (0.68,0.15,0.02)
(0.41,0.43,0.04) (0.44,0.40,0.04) (0.47,0.37,0.04) (0.50,0.34,0.04) (0.53,0.31,0.04) (0.56,0.28,0.04) (0.59,0.25,0.04) (0.62,0.22,0.04) (0.65,0.19,0.04) (0.68,0.16,0.04) (0.71,0.14,0.04) (0.74,0.12,0.04)
(0.38,0.41,0.06) (0.41,0.38,0.06) (0.44,0.35,0.06) (0.47,0.32,0.06) (0.50,0.29,0.06) (0.53,0.26,0.06) (0.56,0.23,0.06) (0.59,0.20,0.06) (0.62,0.17,0.06) (0.65,0.14,0.06) (0.68,0.11,0.06) (0.71,0.09,0.06) (0.74,0.07,0.06)
(0.38,0.42,0.08) (0.41,0.39,0.08) (0.44,0.36,0.08) (0.47,0.33,0.08) (0.50,0.30,0.08) (0.53,0.27,0.08) (0.56,0.24,0.08) (0.59,0.21,0.08) (0.62,0.18,0.08) (0.65,0.15,0.08) (0.68,0.12,0.08) (0.71,0.10,0.08) (0.74,0.08,0.08) (0.77,0.07,0.08)
(0.35,0.40,0.10) (0.38,0.37,0.10) (0.41,0.34,0.10) (0.44,0.31,0.10) (0.47,0.28,0.10) (0.50,0.25,0.10) (0.53,0.22,0.10) (0.56,0.19,0.10) (0.59,0.16,0.10) (0.62,0.13,0.10) (0.65,0.10,0.10) (0.68,0.07,0.10) (0.71,0.05,0.10) (0.74,0.03,0.10)
(0.35,0.41,0.12) (0.38,0.38,0.12) (0.41,0.35,0.12) (0.44,0.32,0.12) (0.47,0.29,0.12) (0.50,0.26,0.12) (0.53,0.23,0.12) (0.56,0.20,0.12) (0.59,0.17,0.12) (0.62,0.14,0.12) (0.65,0.11,0.12) (0.68,0.08,0.12) (0.71,0.06,0.12) (0.74,0.04,0.12)
(0.32,0.39,0.14) (0.35,0.36,0.14) (0.38,0.33,0.14) (0.41,0.30,0.14) (0.44,0.27,0.14) (0.47,0.24,0.14) (0.50,0.21,0.14) (0.53,0.18,0.14) (0.56,0.15,0.14) (0.59,0.12,0.14) (0.62,0.09,0.14) (0.65,0.06,0.14) (0.68,0.03,0.14) (0.71,0.01,0.14)
(0.32,0.40,0.16) (0.35,0.37,0.16) (0.38,0.34,0.16) (0.41,0.31,0.16) (0.44,0.28,0.16) (0.47,0.25,0.16) (0.50,0.22,0.16) (0.53,0.19,0.16) (0.56,0.16,0.16) (0.59,0.13,0.16) (0.62,0.10,0.16) (0.65,0.07,0.16) (0.68,0.04,0.16) (0.71,0.02,0.16)
(0.32,0.35,0.18) (0.35,0.32,0.18) (0.38,0.29,0.18) (0.41,0.26,0.18) (0.44,0.23,0.18) (0.47,0.20,0.18) (0.50,0.17,0.18) (0.53,0.14,0.18) (0.56,0.11,0.18) (0.59,0.08,0.18) (0.62,0.05,0.18) (0.65,0.02,0.18) (0.68,0.01,0.18)
(0.32,0.36,0.20) (0.35,0.33,0.20) (0.38,0.30,0.20) (0.41,0.27,0.20) (0.44,0.24,0.20) (0.47,0.21,0.20) (0.50,0.18,0.20) (0.53,0.15,0.20) (0.56,0.12,0.20) (0.59,0.09,0.20) (0.62,0.06,0.20) (0.65,0.03,0.20)
(0.32,0.31,0.22) (0.35,0.28,0.22) (0.38,0.25,0.22) (0.41,0.22,0.22) (0.44,0.19,0.22) (0.47,0.16,0.22) (0.50,0.13,0.22) (0.53,0.10,0.22) (0.56,0.07,0.22) (0.59,0.04,0.22) (0.62,0.01,0.22)
(0.38,0.26,0.24) (0.41,0.23,0.24) (0.44,0.20,0.24) (0.47,0.17,0.24) (0.50,0.14,0.24) (0.53,0.11,0.24) (0.56,0.08,0.24) (0.59,0.05,0.24)
(0.38,0.21,0.26) (0.41,0.18,0.26) (0.44,0.15,0.26) (0.47,0.12,0.26) (0.50,0.09,0.26) (0.53,0.06,0.26)
(0.41,0.19,0.28) (0.44,0.16,0.28) (0.47,0.13,0.28) (0.50,0.10,0.28)
(0.84,0.10,0.13) (0.82,0.10,0.03) (0.72,0.15,0.00) (0.67,0.17,0.00) (0.35,0.40,0.03) (0.54,0.30,0.26) (0.65,0.30,0.25) (0.68,0.25,0.24) (0.73,0.25,0.21) (0.35,0.35,0.27) (0.77,0.15,0.15) (0.81,0.08,0.09)
};
\addplot3[rd] coordinates {
(0.59,0.27,0.02) (0.62,0.24,0.02) (0.65,0.21,0.02) (0.68,0.18,0.02)
(0.41,0.46,0.04) (0.44,0.43,0.04) (0.47,0.40,0.04) (0.50,0.37,0.04) (0.53,0.34,0.04) (0.56,0.31,0.04) (0.59,0.28,0.04) (0.62,0.25,0.04) (0.65,0.22,0.04) (0.68,0.19,0.04) (0.71,0.17,0.04) (0.74,0.15,0.04)
(0.38,0.44,0.06) (0.41,0.41,0.06) (0.44,0.38,0.06) (0.47,0.35,0.06) (0.50,0.32,0.06) (0.53,0.29,0.06) (0.56,0.26,0.06) (0.59,0.23,0.06) (0.62,0.20,0.06) (0.65,0.17,0.06) (0.68,0.14,0.06) (0.71,0.12,0.06) (0.74,0.10,0.06)
(0.38,0.45,0.08) (0.41,0.42,0.08) (0.44,0.39,0.08) (0.47,0.36,0.08) (0.50,0.33,0.08) (0.53,0.30,0.08) (0.56,0.27,0.08) (0.59,0.24,0.08) (0.62,0.21,0.08) (0.65,0.18,0.08) (0.68,0.15,0.08) (0.71,0.13,0.08) (0.74,0.11,0.08) (0.77,0.10,0.08)
(0.35,0.43,0.10) (0.38,0.40,0.10) (0.41,0.37,0.10) (0.44,0.34,0.10) (0.47,0.31,0.10) (0.50,0.28,0.10) (0.53,0.25,0.10) (0.56,0.22,0.10) (0.59,0.19,0.10) (0.62,0.16,0.10) (0.65,0.13,0.10) (0.68,0.10,0.10) (0.71,0.08,0.10) (0.74,0.06,0.10)
(0.35,0.44,0.12) (0.38,0.41,0.12) (0.41,0.38,0.12) (0.44,0.35,0.12) (0.47,0.32,0.12) (0.50,0.29,0.12) (0.53,0.26,0.12) (0.56,0.23,0.12) (0.59,0.20,0.12) (0.62,0.17,0.12) (0.65,0.14,0.12) (0.68,0.11,0.12) (0.71,0.09,0.12) (0.74,0.07,0.12)
(0.32,0.42,0.14) (0.35,0.39,0.14) (0.38,0.36,0.14) (0.41,0.33,0.14) (0.44,0.30,0.14) (0.47,0.27,0.14) (0.50,0.24,0.14) (0.53,0.21,0.14) (0.56,0.18,0.14) (0.59,0.15,0.14) (0.62,0.12,0.14) (0.65,0.09,0.14) (0.68,0.06,0.14) (0.71,0.04,0.14)
(0.32,0.43,0.16) (0.35,0.40,0.16) (0.38,0.37,0.16) (0.41,0.34,0.16) (0.44,0.31,0.16) (0.47,0.28,0.16) (0.50,0.25,0.16) (0.53,0.22,0.16) (0.56,0.19,0.16) (0.59,0.16,0.16) (0.62,0.13,0.16) (0.65,0.10,0.16) (0.68,0.07,0.16) (0.71,0.05,0.16)
(0.32,0.38,0.18) (0.35,0.35,0.18) (0.38,0.32,0.18) (0.41,0.29,0.18) (0.44,0.26,0.18) (0.47,0.23,0.18) (0.50,0.20,0.18) (0.53,0.17,0.18) (0.56,0.14,0.18) (0.59,0.11,0.18) (0.62,0.08,0.18) (0.65,0.05,0.18) (0.68,0.04,0.18)
(0.32,0.39,0.20) (0.35,0.36,0.20) (0.38,0.33,0.20) (0.41,0.30,0.20) (0.44,0.27,0.20) (0.47,0.24,0.20) (0.50,0.21,0.20) (0.53,0.18,0.20) (0.56,0.15,0.20) (0.59,0.12,0.20) (0.62,0.09,0.20) (0.65,0.06,0.20)
(0.32,0.34,0.22) (0.35,0.31,0.22) (0.38,0.28,0.22) (0.41,0.25,0.22) (0.44,0.22,0.22) (0.47,0.19,0.22) (0.50,0.16,0.22) (0.53,0.13,0.22) (0.56,0.10,0.22) (0.59,0.07,0.22) (0.62,0.04,0.22)
(0.38,0.29,0.24) (0.41,0.26,0.24) (0.44,0.23,0.24) (0.47,0.20,0.24) (0.50,0.17,0.24) (0.53,0.14,0.24) (0.56,0.11,0.24) (0.59,0.08,0.24)
(0.38,0.24,0.26) (0.41,0.21,0.26) (0.44,0.18,0.26) (0.47,0.15,0.26) (0.50,0.12,0.26) (0.53,0.09,0.26)
(0.41,0.22,0.28) (0.44,0.19,0.28) (0.47,0.16,0.28) (0.50,0.13,0.28)
};
\addplot3[bl] coordinates {
(0.44,0.38,0.03) (0.50,0.32,0.03)
(0.36,0.46,0.05) (0.38,0.44,0.05) (0.40,0.42,0.05) (0.42,0.40,0.05) (0.44,0.38,0.05) (0.50,0.32,0.05) (0.56,0.26,0.05) (0.62,0.20,0.05)
(0.26,0.52,0.07) (0.28,0.50,0.07) (0.30,0.48,0.07) (0.32,0.46,0.07) (0.34,0.44,0.07) (0.36,0.42,0.07) (0.38,0.40,0.07) (0.40,0.38,0.07) (0.42,0.36,0.07) (0.44,0.34,0.07) (0.50,0.28,0.07) (0.56,0.22,0.07) (0.62,0.16,0.07)
(0.24,0.54,0.09) (0.26,0.52,0.09) (0.28,0.50,0.09) (0.30,0.48,0.09) (0.32,0.46,0.09) (0.34,0.44,0.09) (0.36,0.42,0.09) (0.38,0.40,0.09) (0.40,0.38,0.09) (0.42,0.36,0.09) (0.44,0.34,0.09) (0.50,0.28,0.09) (0.56,0.22,0.09) (0.62,0.16,0.09) (0.68,0.10,0.09)
(0.22,0.52,0.11) (0.24,0.50,0.11) (0.26,0.48,0.11) (0.28,0.46,0.11) (0.30,0.44,0.11) (0.32,0.42,0.11) (0.34,0.40,0.11) (0.36,0.38,0.11) (0.38,0.36,0.11) (0.40,0.34,0.11) (0.42,0.32,0.11) (0.44,0.30,0.11) (0.50,0.24,0.11) (0.56,0.18,0.11) (0.62,0.12,0.11)
(0.20,0.54,0.13) (0.22,0.52,0.13) (0.24,0.50,0.13) (0.26,0.48,0.13) (0.28,0.46,0.13) (0.30,0.44,0.13) (0.32,0.42,0.13) (0.34,0.40,0.13) (0.36,0.38,0.13) (0.38,0.36,0.13) (0.40,0.34,0.13) (0.42,0.32,0.13) (0.44,0.30,0.13) (0.50,0.24,0.13) (0.56,0.18,0.13) (0.62,0.12,0.13)
(0.20,0.50,0.15) (0.22,0.48,0.15) (0.24,0.46,0.15) (0.26,0.44,0.15) (0.28,0.42,0.15) (0.30,0.40,0.15) (0.32,0.38,0.15) (0.34,0.36,0.15) (0.36,0.34,0.15) (0.38,0.32,0.15) (0.40,0.30,0.15) (0.42,0.28,0.15) (0.44,0.26,0.15) (0.50,0.20,0.15) (0.56,0.14,0.15)
(0.20,0.50,0.17) (0.22,0.48,0.17) (0.24,0.46,0.17) (0.26,0.44,0.17) (0.28,0.42,0.17) (0.30,0.40,0.17) (0.32,0.38,0.17) (0.34,0.36,0.17) (0.36,0.34,0.17) (0.38,0.32,0.17) (0.40,0.30,0.17) (0.42,0.28,0.17) (0.44,0.26,0.17) (0.50,0.20,0.17) (0.56,0.14,0.17)
(0.20,0.46,0.19) (0.22,0.44,0.19) (0.24,0.42,0.19) (0.26,0.40,0.19) (0.28,0.38,0.19) (0.30,0.36,0.19) (0.32,0.34,0.19) (0.34,0.32,0.19) (0.36,0.30,0.19) (0.38,0.28,0.19) (0.40,0.26,0.19) (0.42,0.24,0.19) (0.44,0.22,0.19) (0.50,0.16,0.19)
(0.20,0.46,0.21) (0.22,0.44,0.21) (0.24,0.42,0.21) (0.26,0.40,0.21) (0.28,0.38,0.21) (0.30,0.36,0.21) (0.32,0.34,0.21) (0.34,0.32,0.21) (0.36,0.30,0.21) (0.38,0.28,0.21) (0.40,0.26,0.21) (0.42,0.24,0.21) (0.44,0.22,0.21) (0.46,0.20,0.21) (0.52,0.14,0.21)
(0.20,0.42,0.23) (0.22,0.40,0.23) (0.24,0.38,0.23) (0.26,0.36,0.23) (0.28,0.34,0.23) (0.30,0.32,0.23) (0.32,0.30,0.23) (0.34,0.28,0.23) (0.36,0.26,0.23) (0.38,0.24,0.23) (0.40,0.22,0.23) (0.42,0.20,0.23) (0.44,0.18,0.23) (0.46,0.16,0.23) (0.52,0.10,0.23)
(0.20,0.42,0.25) (0.22,0.40,0.25) (0.24,0.38,0.25) (0.26,0.36,0.25) (0.28,0.34,0.25) (0.30,0.32,0.25) (0.32,0.30,0.25) (0.34,0.28,0.25) (0.36,0.26,0.25) (0.38,0.24,0.25) (0.40,0.22,0.25) (0.42,0.20,0.25) (0.44,0.18,0.25) (0.46,0.16,0.25) (0.48,0.14,0.25) (0.50,0.12,0.25)
(0.20,0.38,0.27) (0.22,0.36,0.27) (0.24,0.34,0.27) (0.26,0.32,0.27) (0.28,0.30,0.27) (0.30,0.28,0.27) (0.32,0.26,0.27) (0.34,0.24,0.27) (0.36,0.22,0.27) (0.38,0.20,0.27) (0.40,0.18,0.27) (0.42,0.16,0.27) (0.44,0.14,0.27) (0.46,0.12,0.27) (0.48,0.10,0.27) (0.50,0.08,0.27)
(0.20,0.38,0.29) (0.22,0.36,0.29) (0.24,0.34,0.29) (0.26,0.32,0.29) (0.28,0.30,0.29) (0.30,0.28,0.29) (0.32,0.26,0.29) (0.34,0.24,0.29) (0.36,0.22,0.29) (0.38,0.20,0.29) (0.40,0.18,0.29) (0.42,0.16,0.29) (0.44,0.14,0.29) (0.46,0.12,0.29) (0.48,0.10,0.29)
(0.28,0.40,0.30) (0.30,0.38,0.30) (0.32,0.36,0.30) (0.34,0.34,0.30) (0.36,0.32,0.30) (0.38,0.30,0.30) (0.40,0.28,0.30) (0.42,0.26,0.30) (0.44,0.24,0.30)
(0.20,0.55,0.11) (0.20,0.57,0.13) (0.20,0.57,0.15) (0.20,0.56,0.17) (0.20,0.56,0.19) (0.20,0.53,0.22)
};
\end{axis}
% ---------------- titles
\node[font=\titlefont\fontsize{25}{25}\selectfont, anchor=base] at (242.5,-22) {n=0.4};
\node[font=\titlefont\fontsize{25}{25}\selectfont, anchor=base] at (668.5,-22) {n=0.53};
\node[font=\titlefont\fontsize{25}{25}\selectfont, anchor=base] at (252,-346) {n=0.67};
\node[font=\titlefont\fontsize{25}{25}\selectfont, anchor=base] at (669,-346) {n=0.77};
% ---------------- axis labels
\node[rotate=14] at (327,-280) {\lab{P(0)}};
\node[rotate=-24] at (98,-272) {\lab{\textit{P(1)}}};
\node[rotate=90] at (15,-132) {\lab{\textit{P}(2)}};
\node[rotate=14] at (748,-273) {\lab{P(0)}};
\node[rotate=-24] at (510,-272) {\lab{\textit{P(1)}}};
\node[rotate=90] at (430,-123) {\lab{\textit{P}(2)}};
\node[rotate=14] at (330,-618) {\lab{P(0)}};
\node[rotate=-24] at (105,-614) {\lab{\textit{P(1)}}};
\node[rotate=90] at (12,-463) {\lab{\textit{P}(2)}};
\node[rotate=14] at (755,-618) {\lab{P(0)}};
\node[rotate=-24] at (528,-617) {\lab{\textit{P(1)}}};
\node[rotate=90] at (438,-477) {\lab{\textit{P}(2)}};
\end{tikzpicture}
\end{document}
